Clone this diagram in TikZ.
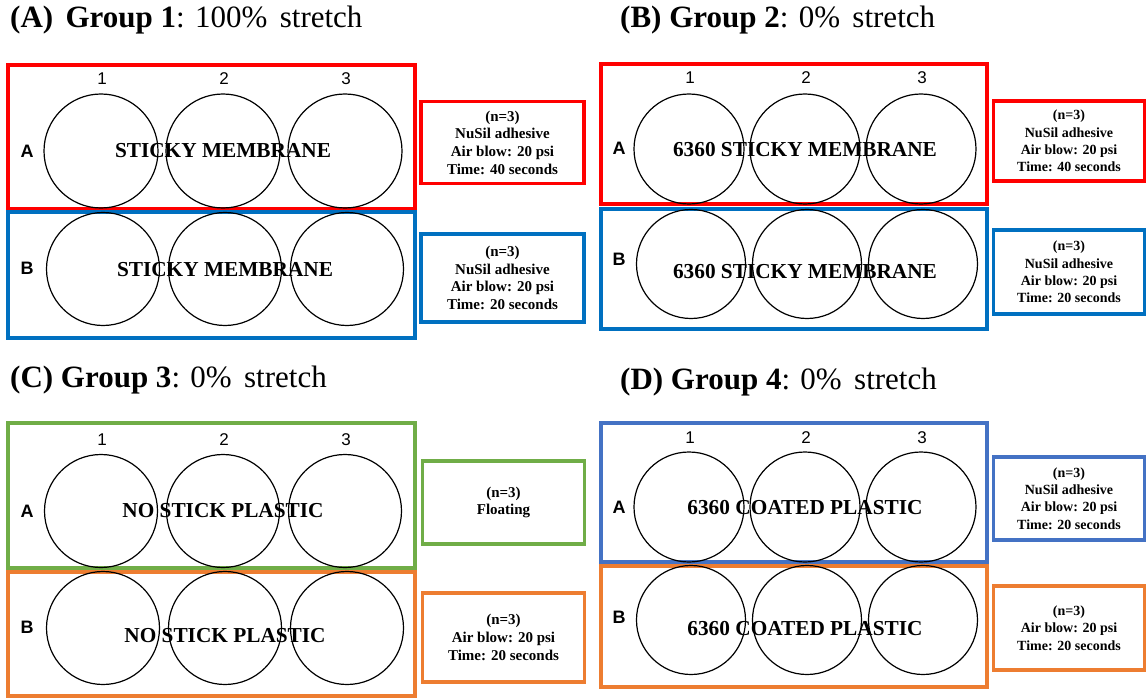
\documentclass[tikz,border=0pt]{standalone}
\usepackage{fontspec}
\setmainfont{Liberation Serif}
\setsansfont{Liberation Sans}
\usepackage{xcolor}
\usepackage{tikz}
\usetikzlibrary{positioning}

\definecolor{platered}{HTML}{FF0000}
\definecolor{plateblue}{HTML}{0070C0}
\definecolor{plategreen}{HTML}{70AD47}
\definecolor{plateorange}{HTML}{ED7D31}
\definecolor{platesteel}{HTML}{4472C4}

\begin{document}
\begin{tikzpicture}[
  x=1pt, y=-1pt,
  heading/.style={anchor=west, inner sep=0pt, font=\fontsize{31}{35}\selectfont},
  plate/.style={draw, line width=3.2pt, inner sep=0pt},
  info/.style={draw, line width=3.2pt, align=center, inner sep=0pt, font=\fontsize{15}{17.7}\selectfont\bfseries},
  infosmall/.style={info, font=\fontsize{14}{17.3}\selectfont\bfseries},
  well/.style={draw, circle, line width=1.2pt, inner sep=0pt},
  idx/.style={inner sep=0pt, font=\sffamily\fontsize{17}{17}\selectfont},
  rowidx/.style={inner sep=0pt, font=\sffamily\bfseries\fontsize{18}{18}\selectfont},
  coat/.style={inner sep=0pt, font=\fontsize{21.3}{24}\selectfont\bfseries},
]
\useasboundingbox (0,0) rectangle (1146,698);

%------------------- (A) Group 1 -------------------
\node (g1_title) [heading] at (10,20) {\textbf{(A)\hspace{.4em}Group 1}: 100\%\hspace{.4em}stretch};
\node (g1_plate_a) [plate, draw=platered, minimum width=407pt, minimum height=144pt] at (211.5,137) {};
\node (g1_plate_b) [plate, draw=plateblue, minimum width=407pt, minimum height=126pt] at (211.5,275) {};
\foreach \x/\c in {101/1, 223/2, 345/3} {
  \node (g1_col\c) [idx] at (\x+1,79) {\c};
  \node (g1_a\c) [well, minimum size=114pt] at (\x,151) {};
  \node (g1_b\c) [well, minimum size=113pt] at (\x+2,269) {};
}
\node (g1_row_a) [rowidx] at (27,151) {A};
\node (g1_row_b) [rowidx] at (27,268) {B};
\node (g1_coat_a) [coat] at (223,151) {STICKY MEMBRANE};
\node (g1_coat_b) [coat] at (225,270) {STICKY MEMBRANE};
\node (g1_info_a) [info, draw=platered, minimum width=163pt, minimum height=82pt] at (502.5,142.5)
  {(n=3)\\NuSil adhesive\\Air blow: 20 psi\\Time: 40 seconds};
\node (g1_info_b) [info, draw=plateblue, minimum width=163pt, minimum height=88pt] at (502.5,278)
  {(n=3)\\NuSil adhesive\\Air blow: 20 psi\\Time: 20 seconds};

%------------------- (B) Group 2 -------------------
\node (g2_title) [heading] at (620,20) {\textbf{(B) Group 2}: 0\%\hspace{.4em}stretch};
\node (g2_plate_a) [plate, draw=platered, minimum width=386pt, minimum height=140pt] at (794,134) {};
\node (g2_plate_b) [plate, draw=plateblue, minimum width=386pt, minimum height=120pt] at (794,269) {};
\foreach \x/\c in {689/1, 805/2, 921/3} {
  \node (g2_col\c) [idx] at (\x+1,78) {\c};
  \node (g2_a\c) [well, minimum size=110pt] at (\x,149) {};
  \node (g2_b\c) [well, minimum size=109pt] at (\x+2,264) {};
}
\node (g2_row_a) [rowidx] at (619,148) {A};
\node (g2_row_b) [rowidx] at (619,259) {B};
\node (g2_coat_a) [coat] at (805,150) {6360 STICKY MEMBRANE};
\node (g2_coat_b) [coat] at (805,272) {6360 STICKY MEMBRANE};
\node (g2_info_a) [infosmall, draw=platered, minimum width=151pt, minimum height=80pt] at (1069,141)
  {(n=3)\\NuSil adhesive\\Air blow: 20 psi\\Time: 40 seconds};
\node (g2_info_b) [infosmall, draw=plateblue, minimum width=151pt, minimum height=84pt] at (1069,272)
  {(n=3)\\NuSil adhesive\\Air blow: 20 psi\\Time: 20 seconds};

%------------------- (C) Group 3 -------------------
\node (g3_title) [heading] at (10,380) {\textbf{(C) Group 3}: 0\%\hspace{.4em}stretch};
\node (g3_plate_a) [plate, draw=plategreen, minimum width=407pt, minimum height=145pt] at (211.5,495.5) {};
\node (g3_plate_b) [plate, draw=plateorange, minimum width=407pt, minimum height=124pt] at (211.5,634) {};
\foreach \x/\c in {101/1, 223/2, 345/3} {
  \node (g3_col\c) [idx] at (\x+1,440) {\c};
  \node (g3_a\c) [well, minimum size=113pt] at (\x,511) {};
  \node (g3_b\c) [well, minimum size=113pt] at (\x+2,628) {};
}
\node (g3_row_a) [rowidx] at (27,511) {A};
\node (g3_row_b) [rowidx] at (27,627) {B};
\node (g3_coat_a) [coat] at (223,511) {NO STICK PLASTIC};
\node (g3_coat_b) [coat] at (225,636) {NO STICK PLASTIC};
\node (g3_info_a) [info, draw=plategreen, minimum width=162pt, minimum height=83pt] at (503.5,502.5)
  {(n=3)\\Floating};
\node (g3_info_b) [info, draw=plateorange, minimum width=162pt, minimum height=89pt] at (503.5,637.5)
  {(n=3)\\Air blow: 20 psi\\Time: 20 seconds};

%------------------- (D) Group 4 -------------------
\node (g4_title) [heading] at (620,382) {\textbf{(D) Group 4}: 0\%\hspace{.4em}stretch};
\node (g4_plate_a) [plate, draw=platesteel, minimum width=386pt, minimum height=139pt] at (794,492.5) {};
\node (g4_plate_b) [plate, draw=plateorange, minimum width=386pt, minimum height=121pt] at (794,626.5) {};
\foreach \x/\c in {689/1, 805/2, 921/3} {
  \node (g4_col\c) [idx] at (\x+1,438) {\c};
  \node (g4_a\c) [well, minimum size=110pt] at (\x,507) {};
  \node (g4_b\c) [well, minimum size=109pt] at (\x+2,620) {};
}
\node (g4_row_a) [rowidx] at (619,507) {A};
\node (g4_row_b) [rowidx] at (619,617) {B};
\node (g4_coat_a) [coat] at (805,508) {6360 COATED PLASTIC};
\node (g4_coat_b) [coat] at (805,629) {6360 COATED PLASTIC};
\node (g4_info_a) [infosmall, draw=platesteel, minimum width=151pt, minimum height=83pt] at (1069,498.5)
  {(n=3)\\NuSil adhesive\\Air blow: 20 psi\\Time: 20 seconds};
\node (g4_info_b) [infosmall, draw=plateorange, minimum width=151pt, minimum height=84pt] at (1069,628)
  {(n=3)\\Air blow: 20 psi\\Time: 20 seconds};

\end{tikzpicture}
\end{document}
